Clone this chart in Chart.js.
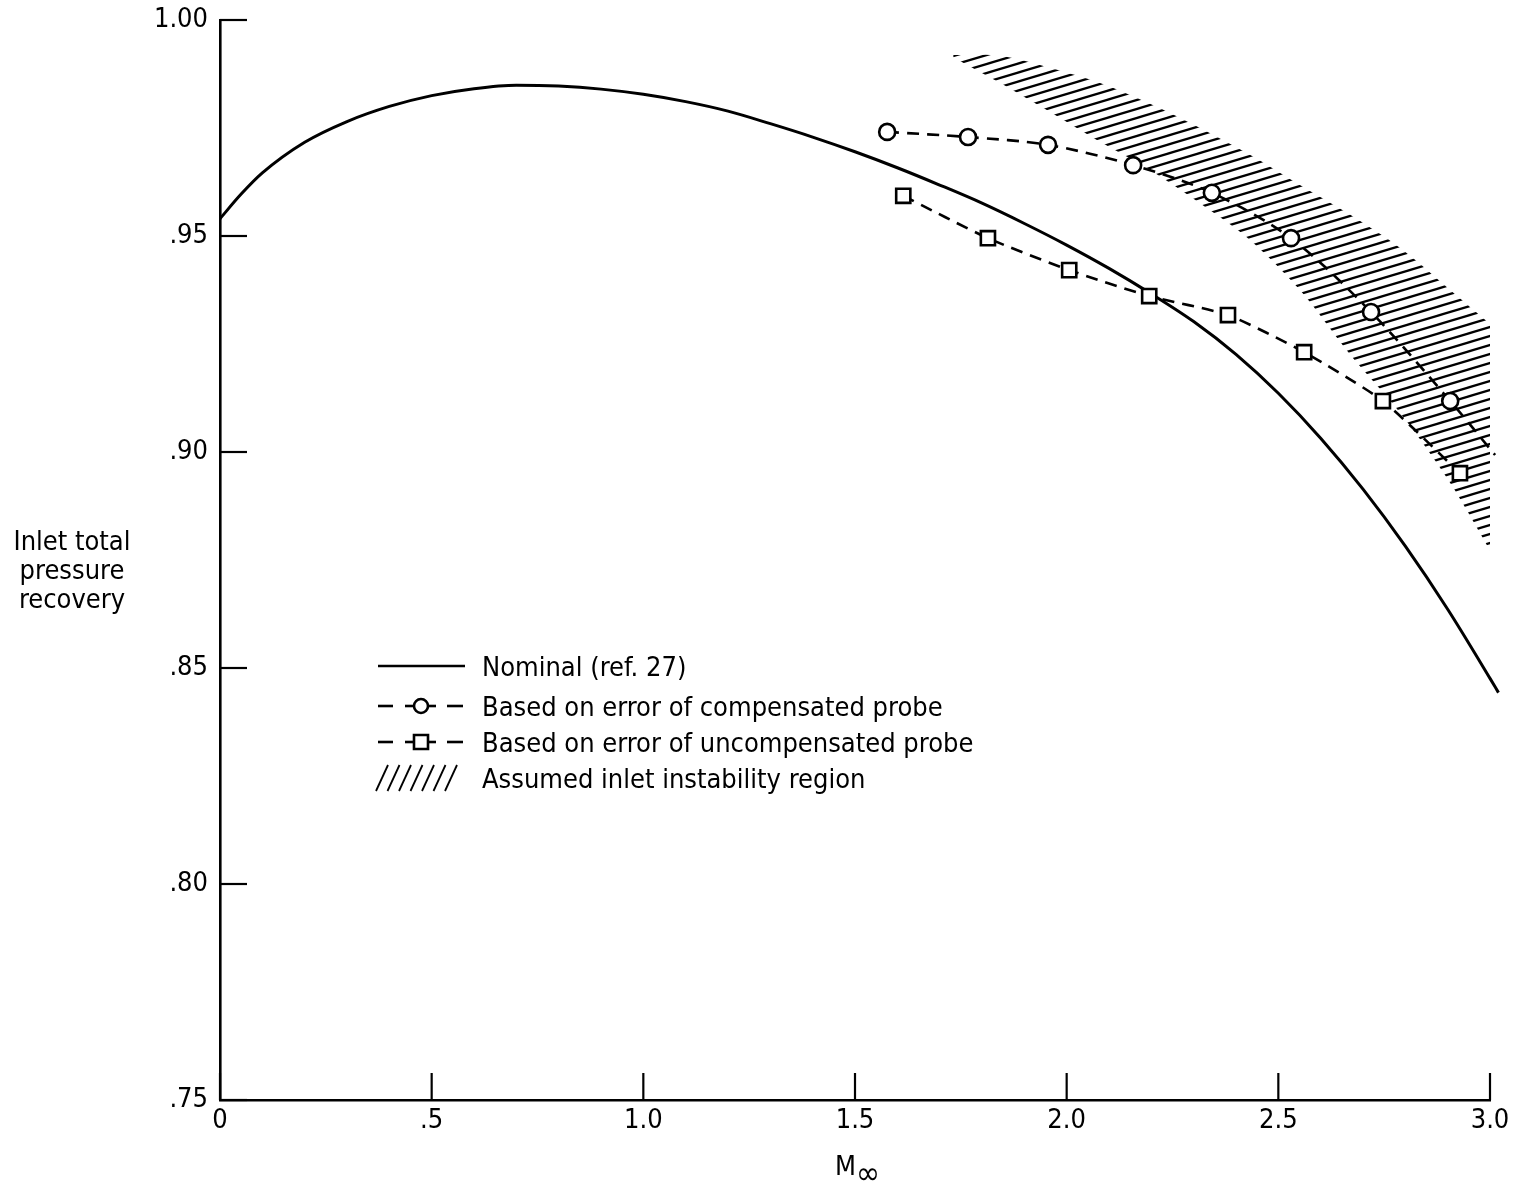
<!DOCTYPE html>
<html>
<head>
<meta charset="utf-8">
<script src="https://cdn.jsdelivr.net/npm/chart.js@4.4.0/dist/chart.umd.min.js"></script>
<style>
    html, body { margin: 0; padding: 0; background: #fff; overflow: hidden; }
    #wrap { width: 1519px; height: 1184px; position: relative; }
</style>
</head>
<body>
<div id="wrap"><canvas id="chart"></canvas></div>
<script>
// values
const nominalX = [0, 0.05, 0.1, 0.2, 0.3, 0.4, 0.5, 0.6, 0.7, 0.8, 0.9, 1.0, 1.1, 1.2, 1.3, 1.4, 1.5,
    1.6, 1.7, 1.8, 1.9, 2.0, 2.1, 2.2, 2.3, 2.4, 2.5, 2.6, 2.7, 2.8, 2.9, 3.0, 3.02];
const nominalY = [0.954, 0.9597, 0.9646, 0.9717, 0.9765, 0.9800, 0.9825, 0.9841, 0.9849, 0.9847, 0.9840, 0.9828,
    0.9811, 0.9789, 0.9760, 0.9729, 0.9695, 0.9658, 0.9618, 0.9576, 0.9529, 0.9479, 0.9425, 0.9366,
    0.9302, 0.9226, 0.9136, 0.9032, 0.8914, 0.8782, 0.8636, 0.8476, 0.8443];

const compX = [1.576, 1.767, 1.956, 2.157, 2.343, 2.530, 2.719, 2.906, 3.012];
const compY = [0.9741, 0.9729, 0.9711, 0.9664, 0.960, 0.9495, 0.9324, 0.9118, 0.8993];
const compMarker = [1, 1, 1, 1, 1, 1, 1, 1, 0];

const uncompX = [1.614, 1.814, 2.006, 2.195, 2.381, 2.561, 2.747, 2.929];
const uncompY = [0.9593, 0.9495, 0.9421, 0.9361, 0.9317, 0.9231, 0.9118, 0.8951];

const bandX = [1.732, 1.843, 1.961, 2.079, 2.197, 2.315, 2.433, 2.551, 2.670, 2.788, 2.906, 3.017];
const bandUpper = [0.9919, 0.9917, 0.9889, 0.9854, 0.9806, 0.975, 0.9688, 0.9618, 0.9549, 0.9472, 0.9375, 0.9282];
const bandLower = [0.9914, 0.9854, 0.9787, 0.9718, 0.9653, 0.9576, 0.9491, 0.9375, 0.9225, 0.909, 0.8928, 0.8743];

const xTicks = [0, 0.5, 1.0, 1.5, 2.0, 2.5, 3.0];
const yTicks = [0.75, 0.80, 0.85, 0.90, 0.95, 1.00];

const legendLabels = [
    'Nominal (ref. 27)',
    'Based on error of compensated probe',
    'Based on error of uncompensated probe',
    'Assumed inlet instability region'
];
const yTitle = ['Inlet total', 'pressure', 'recovery'];

const FONT = "'DejaVu Sans Condensed', 'Liberation Sans Narrow', sans-serif";
const FS = 27;
const LW = 2.6;

const pts = (xs, ys) => xs.map((x, i) => ({ x, y: ys[i] }));

function hatchPattern() {
    const W = 30, H = 9;
    const tile = document.createElement('canvas');
    tile.width = W;
    tile.height = H;
    const c = tile.getContext('2d');
    c.strokeStyle = '#000';
    c.lineWidth = 2.3;
    for (const k of [-1, 0, 1]) {
        c.beginPath();
        c.moveTo(-W, 2 * H + k * H);
        c.lineTo(2 * W, -H + k * H);
        c.stroke();
    }
    return document.getElementById('chart').getContext('2d').createPattern(tile, 'repeat');
}

// tick marks point inward, as on the original
const inwardTicks = {
    id: 'inwardTicks',
    afterDraw(chart) {
        const { ctx, chartArea } = chart;
        const xs = chart.scales.x, ys = chart.scales.y;
        ctx.save();
        ctx.strokeStyle = '#000';
        ctx.lineWidth = 2.2;
        xTicks.forEach(v => {
            const px = xs.getPixelForValue(v);
            ctx.beginPath();
            ctx.moveTo(px, chartArea.bottom);
            ctx.lineTo(px, chartArea.bottom - 27);
            ctx.stroke();
        });
        yTicks.forEach(v => {
            const py = ys.getPixelForValue(v);
            ctx.beginPath();
            ctx.moveTo(chartArea.left, py);
            ctx.lineTo(chartArea.left + 27, py);
            ctx.stroke();
        });
        ctx.restore();
    }
};

const extras = {
    id: 'extras',
    afterDraw(chart) {
        const ctx = chart.ctx;
        ctx.save();
        ctx.fillStyle = '#000';
        ctx.strokeStyle = '#000';
        ctx.font = `${FS}px ${FONT}`;

        // y title
        ctx.textAlign = 'center';
        ctx.textBaseline = 'alphabetic';
        [550, 579, 608].forEach((y, i) => ctx.fillText(yTitle[i], 72, y));

        // x title M with infinity subscript
        ctx.textAlign = 'left';
        ctx.fillText('M', 835, 1175);
        ctx.font = `32px ${FONT}`;
        ctx.fillText('\u221E', 856, 1184);

        // legend
        ctx.font = `${FS}px ${FONT}`;
        const rows = [666, 706, 742, 778];
        ctx.lineWidth = LW;

        ctx.beginPath();
        ctx.moveTo(378, rows[0]);
        ctx.lineTo(465, rows[0]);
        ctx.stroke();

        [1, 2].forEach(r => {
            const y = rows[r];
            [[378, 393], [405, 414], [428, 436], [447, 463]].forEach(([a, b]) => {
                ctx.beginPath();
                ctx.moveTo(a, y);
                ctx.lineTo(b, y);
                ctx.stroke();
            });
            ctx.fillStyle = '#fff';
            ctx.beginPath();
            if (r === 1) {
                ctx.arc(421, y, 7, 0, Math.PI * 2);
            } else {
                ctx.rect(414, y - 7, 14, 14);
            }
            ctx.fill();
            ctx.stroke();
            ctx.fillStyle = '#000';
        });

        ctx.lineWidth = 1.8;
        for (let x = 376; x <= 456; x += 11.5) {
            ctx.beginPath();
            ctx.moveTo(x, rows[3] + 13);
            ctx.lineTo(x + 12, rows[3] - 13);
            ctx.stroke();
        }

        ctx.textBaseline = 'alphabetic';
        legendLabels.forEach((t, i) => ctx.fillText(t, 482, rows[i] + 10));
        ctx.restore();
    }
};

const hatch = hatchPattern();

new Chart(document.getElementById('chart'), {
    type: 'line',
    data: {
        datasets: [
            {
                data: pts(compX, compY),
                borderColor: '#000',
                borderWidth: LW,
                borderDash: [12, 8],
                pointStyle: 'circle',
                pointRadius: compMarker.map(m => m ? 8 : 0),
                pointBackgroundColor: '#fff',
                pointBorderColor: '#000',
                pointBorderWidth: LW,
                tension: 0.3,
                fill: false,
                clip: false,
                order: 0
            },
            {
                data: pts(uncompX, uncompY),
                borderColor: '#000',
                borderWidth: LW,
                borderDash: [12, 8],
                pointStyle: 'rect',
                pointRadius: 10,
                pointBackgroundColor: '#fff',
                pointBorderColor: '#000',
                pointBorderWidth: LW,
                tension: 0.2,
                fill: false,
                clip: false,
                order: 1
            },
            {
                data: pts(nominalX, nominalY),
                borderColor: '#000',
                borderWidth: 3,
                pointRadius: 0,
                cubicInterpolationMode: 'monotone',
                fill: false,
                clip: false,
                order: 2
            },
            {
                data: pts(bandX, bandUpper),
                borderWidth: 0,
                borderColor: 'rgba(0,0,0,0)',
                pointRadius: 0,
                tension: 0.3,
                fill: false,
                clip: false,
                order: 10
            },
            {
                data: pts(bandX, bandLower),
                borderWidth: 0,
                borderColor: 'rgba(0,0,0,0)',
                backgroundColor: hatch,
                pointRadius: 0,
                tension: 0.3,
                fill: '-1',
                clip: false,
                order: 11
            }
        ]
    },
    options: {
        responsive: true,
        maintainAspectRatio: false,
        animation: false,
        events: [],
        layout: { padding: { top: 20, right: 29, bottom: 0, left: 0 } },
        plugins: {
            legend: { display: false },
            tooltip: { enabled: false },
            filler: { propagate: false }
        },
        scales: {
            x: {
                type: 'linear',
                // range set after data limits so points past 3.0 are not culled
                afterDataLimits: s => { s.min = 0; s.max = 3; },
                afterFit: s => { s.height = 84; s.paddingLeft = 0; s.paddingRight = 0; },
                afterBuildTicks: s => { s.ticks = xTicks.map(v => ({ value: v })); },
                grid: { display: false, drawTicks: false },
                border: { display: true, color: '#000', width: LW },
                ticks: {
                    padding: 5,
                    color: '#000',
                    font: { family: FONT, size: FS },
                    callback: v => v === 0 ? '0' : (v < 1 ? '.' + v.toFixed(1).slice(2) : v.toFixed(1))
                }
            },
            y: {
                type: 'linear',
                min: 0.75,
                max: 1.0,
                afterFit: s => { s.width = 220; s.paddingTop = 0; s.paddingBottom = 0; },
                afterBuildTicks: s => { s.ticks = yTicks.map(v => ({ value: v })); },
                grid: { display: false, drawTicks: false },
                border: { display: true, color: '#000', width: LW },
                ticks: {
                    padding: 12,
                    color: '#000',
                    font: { family: FONT, size: FS },
                    callback: v => { const s = v.toFixed(2); return s[0] === '0' ? s.slice(1) : s; }
                }
            }
        }
    },
    plugins: [inwardTicks, extras]
});
</script>
</body>
</html>
